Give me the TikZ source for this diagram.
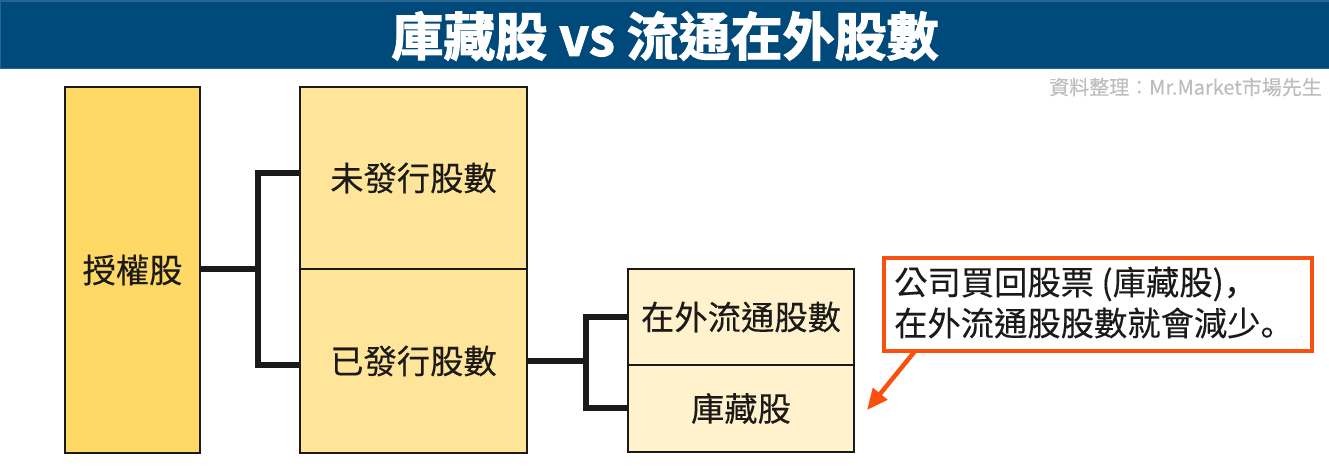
\documentclass[tikz,border=0pt]{standalone}
\usepackage{fontspec}
\setmainfont[FakeBold=0.25]{Noto Sans CJK TC}
\newfontfamily\titlefont[FakeBold=2.2]{Noto Sans CJK TC Bold}
\newfontfamily\puncfont[FakeBold=0.25]{Noto Sans CJK SC}
\usetikzlibrary{arrows.meta}
\definecolor{hdr}{HTML}{004A7B}
\definecolor{linec}{HTML}{1C1A18}
\definecolor{fa}{HTML}{FFD966}
\definecolor{fb}{HTML}{FFE599}
\definecolor{fc}{HTML}{FFF2CC}
\definecolor{org}{HTML}{F9500F}
\definecolor{wm}{HTML}{BDBDBD}
\tikzset{
  x=1pt,y=-1pt,
  boxst/.style={draw=linec,line width=2.6pt,rectangle,inner sep=0pt,font=\fontsize{33.3}{36}\selectfont,text=linec},
  conn/.style={draw=linec,line width=5.5pt,line join=miter},
}
\begin{document}
\begin{tikzpicture}
\useasboundingbox (0,0) rectangle (1329,471);
\node (head) [rectangle,fill=hdr,draw=hdr!85!white,line width=1pt,minimum width=1329pt,minimum height=67.5pt,inner sep=0pt,anchor=north west] at (0,0.5) {};
\node (title) [text=white,font=\titlefont\fontsize{52}{56}\selectfont,inner sep=0pt] at (665,36) {庫藏股 vs 流通在外股數};
\node (src) [text=wm,font=\fontsize{20}{22}\selectfont,inner sep=0pt,anchor=east] at (1322,87) {資料整理：Mr.Market市場先生};
\node (auth) [boxst,fill=fa,minimum width=135pt,minimum height=366pt] at (132.5,270) {授權股};
\node (un) [boxst,fill=fb,minimum width=227pt,minimum height=182pt] at (413.5,178) {未發行股數};
\node (iss) [boxst,fill=fb,minimum width=227pt,minimum height=184pt] at (413.5,361) {已發行股數};
\node (out) [boxst,fill=fc,minimum width=226pt,minimum height=96pt] at (741,317) {在外流通股數};
\node (tre) [boxst,fill=fc,minimum width=226pt,minimum height=87pt] at (741,408.5) {庫藏股};
\node (note) [draw=org,line width=4pt,fill=white,rectangle,minimum width=428pt,minimum height=93.5pt,inner sep=0pt,anchor=north west] at (881.5,255.5) {};
\node (notea) [text=linec,font=\fontsize{33.3}{36}\selectfont,inner sep=0pt,anchor=west] at (894,284) {公司買回股票 (庫藏股){\puncfont ，}};
\node (noteb) [text=linec,font=\fontsize{33.3}{36}\selectfont,inner sep=0pt,anchor=west] at (894,323) {在外流通股股數就會減少{\puncfont 。}};
\coordinate (j1) at (258,269);
\coordinate (j1a) at (258,173);
\coordinate (j1b) at (258,365);
\coordinate (j2) at (586,361);
\coordinate (j2a) at (586,317);
\coordinate (j2b) at (586,408);
\coordinate (noteout) at (915,351);
\coordinate (tip) at (867,410);
\draw[conn] (auth.east |- j1) -- (j1);
\draw[conn] (un.west |- j1a) -- (j1a) -- (j1b) -- (iss.west |- j1b);
\draw[conn] (iss.east |- j2) -- (j2);
\draw[conn] (out.west |- j2a) -- (j2a) -- (j2b) -- (tre.west |- j2b);
\draw[org,line width=4.5pt,-{Triangle[length=21pt,width=18pt]}] (noteout) -- (tip);
\end{tikzpicture}
\end{document}
